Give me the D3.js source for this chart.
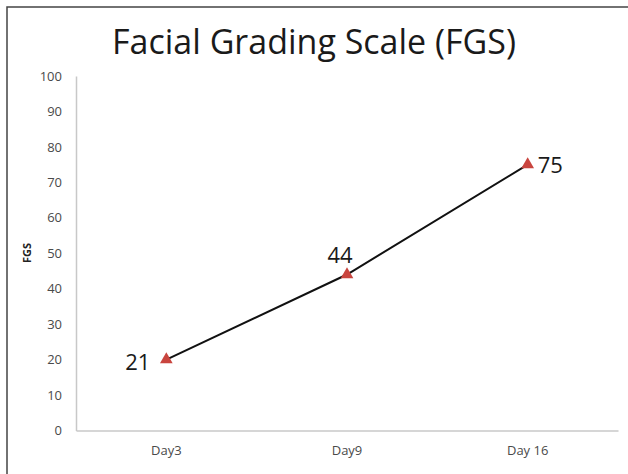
<!DOCTYPE html>
<html>
<head>
<meta charset="utf-8">
<script src="https://cdn.jsdelivr.net/npm/d3@7"></script>
<style>
  body { margin: 0; background: #fff; }
  svg { display: block; }
</style>
</head>
<body>
<svg width="628" height="474"></svg>
<script>
// chart data
var days = ["Day3", "Day9", "Day 16"];
var fgs = [20, 44, 75];
var labels = ["21", "44", "75"];
var yTicks = [0, 10, 20, 30, 40, 50, 60, 70, 80, 90, 100];

var svg = d3.select("svg"),
margin = {
    top: 76,
    right: 10,
    bottom: 44,
    left: 76
},
width = +svg.attr("width") - margin.left - margin.right,
height = +svg.attr("height") - margin.top - margin.bottom;

// outer frame (left and top edges only)
svg.append("path")
    .attr("d", "M7,474 V7 H628")
    .attr("fill", "none")
    .attr("stroke", "#444")
    .attr("stroke-width", 1.5);

svg.append("text")
    .attr("x", 314)
    .attr("y", 54)
    .attr("text-anchor", "middle")
    .style("font", "34px 'Open Sans', sans-serif")
    .style("fill", "#1a1a1a")
    .text("Facial Grading Scale (FGS)");

var g = svg.append("g")
    .attr("transform", "translate(" + margin.left + "," + margin.top + ")");

var x = d3.scaleBand().range([0, 542]).domain(days);
var y = d3.scaleLinear().range([height + 0.5, 0]).domain([0, 100]);

// x axis
var xAxis = g.append("g")
    .attr("transform", "translate(0," + y(0) + ")")
    .call(d3.axisBottom(x).tickSize(0).tickPadding(15));
xAxis.select(".domain").attr("stroke", "#c8c8c8").attr("stroke-width", 1.5);
xAxis.selectAll("text")
    .style("font", "13px 'Open Sans', sans-serif")
    .style("fill", "#4a4a4a");

// y axis
var yAxis = g.append("g")
    .call(d3.axisLeft(y).tickValues(yTicks).tickSize(0).tickPadding(14));
yAxis.select(".domain").attr("stroke", "#c8c8c8").attr("stroke-width", 1.5);
yAxis.selectAll("text")
    .style("font", "13px 'Open Sans', sans-serif")
    .style("fill", "#4a4a4a");

svg.append("text")
    .attr("transform", "translate(31,253) rotate(-90)")
    .attr("text-anchor", "middle")
    .style("font", "bold 11px 'Open Sans', sans-serif")
    .style("fill", "#222")
    .text("FGS");

var pts = days.map(function(d, i) {
    return { day: d, v: fgs[i], label: labels[i] };
});

var line = d3.line()
    .x(function(d) { return x(d.day) + x.bandwidth() / 2; })
    .y(function(d) { return y(d.v); });

g.append("path")
    .datum(pts)
    .attr("d", line)
    .attr("fill", "none")
    .attr("stroke", "#111")
    .attr("stroke-width", 2);

g.selectAll(".mark")
    .data(pts)
    .enter().append("path")
    .attr("class", "mark")
    .attr("transform", function(d) {
        return "translate(" + (x(d.day) + x.bandwidth() / 2) + "," + y(d.v) + ")";
    })
    .attr("d", d3.symbol().type(d3.symbolTriangle).size(70))
    .attr("fill", "#c9453f");

// value labels: left, above, right
var offs = [[-16, 10, "end"], [-7, -12, "middle"], [10, 8, "start"]];
g.selectAll(".lbl")
    .data(pts)
    .enter().append("text")
    .attr("class", "lbl")
    .attr("x", function(d, i) { return x(d.day) + x.bandwidth() / 2 + offs[i][0]; })
    .attr("y", function(d, i) { return y(d.v) + offs[i][1]; })
    .attr("text-anchor", function(d, i) { return offs[i][2]; })
    .style("font", "22px 'Open Sans', sans-serif")
    .style("fill", "#1a1a1a")
    .text(function(d) { return d.label; });
</script>
</body>
</html>
